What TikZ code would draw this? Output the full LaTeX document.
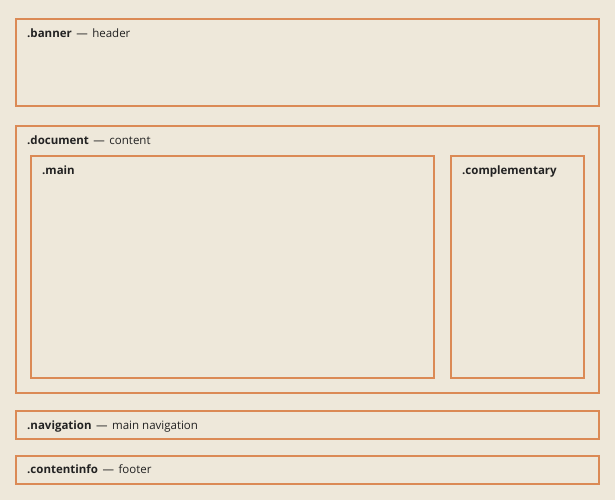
\documentclass[tikz,border=0pt]{standalone}
\usepackage{fontspec}
\setmainfont{Open Sans}
\usepackage{xcolor}
\usetikzlibrary{positioning}
\definecolor{paper}{HTML}{EEE8DA}
\definecolor{rim}{HTML}{DB8A55}
\definecolor{ink}{HTML}{222222}
\newcommand{\dashsep}{\hspace{4.5pt}—\hspace{4.5pt}}
\tikzset{
  region/.style={draw=rim, line width=2pt, inner sep=0pt, outer sep=0pt, anchor=north west},
  tag/.style={anchor=base west, inner sep=0pt, text=ink, font=\fontsize{11.5}{13}\selectfont}
}

\begin{document}
\begin{tikzpicture}[x=1pt,y=-1pt]
		\fill[paper] (0,0) rectangle (615,500);
		\useasboundingbox (0,0) rectangle (615,500);
		% outer regions
		\node[region, minimum width=583, minimum height=87] (banner) at (16,19) {};
		\node[region, minimum width=583, minimum height=267] (document) at (16,126) {};
		\node[region, minimum width=583, minimum height=28] (navigation) at (16,411) {};
		\node[region, minimum width=583, minimum height=28] (contentinfo) at (16,456) {};
		% inner regions
		\node[region, minimum width=403, minimum height=222] (main) at (31,156) {};
		\node[region, minimum width=133, minimum height=222] (complementary) at (451,156) {};
		% labels
		\node[tag] (bannertag) at (27,38) {\textbf{.banner}\dashsep header};
		\node[tag] (documenttag) at (27,144) {\textbf{.document}\dashsep content};
		\node[tag] (maintag) at (42,174) {\textbf{.main}};
		\node[tag] (complementarytag) at (462,174) {\textbf{.complementary}};
		\node[tag] (navigationtag) at (27,429) {\textbf{.navigation}\dashsep main navigation};
		\node[tag] (contentinfotag) at (27,473) {\textbf{.contentinfo}\dashsep footer};
\end{tikzpicture}
\end{document}
